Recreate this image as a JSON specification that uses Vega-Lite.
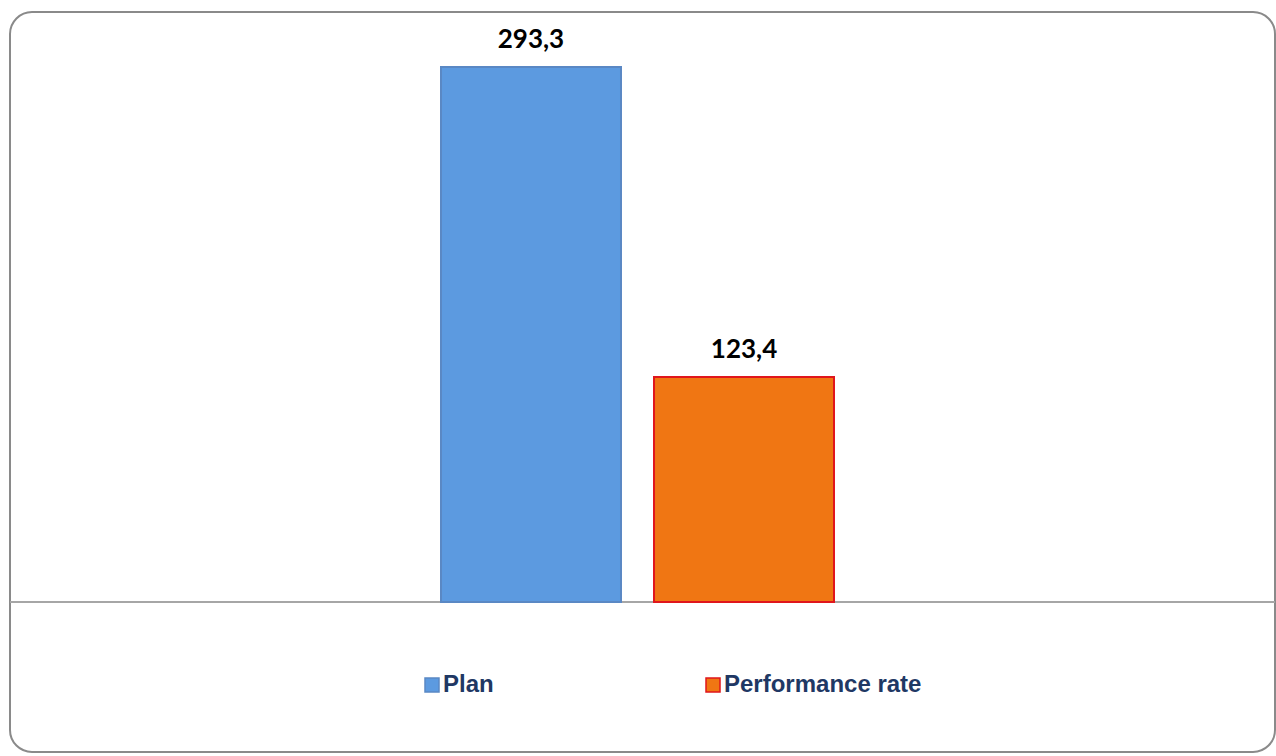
{
  "$schema": "https://vega.github.io/schema/vega-lite/v6.json",
  "width": 1265,
  "height": 740,
  "autosize": {"type": "none"},
  "padding": {"left": 10, "top": 12, "right": 1, "bottom": 4},
  "background": "white",
  "config": {"view": {"stroke": "#8A8A8A", "strokeWidth": 2, "cornerRadius": 22}},
  "data": {"values": [
    {"category": "Plan", "value": 293.3, "label": "293,3"},
    {"category": "Performance rate", "value": 123.4, "label": "123,4"}
  ]},
  "layer": [
    {
      "mark": {"type": "rule", "color": "#A6A6A6", "strokeWidth": 2},
      "encoding": {
        "y": {"datum": 0, "type": "quantitative", "axis": null, "scale": {"domain": [-82.2, 323.5], "nice": false, "zero": false}}
      }
    },
    {
      "mark": {"type": "bar", "strokeWidth": 2},
      "encoding": {
        "x": {"field": "category", "type": "nominal", "sort": null, "axis": null,
              "scale": {"range": [431, 824], "paddingInner": 0.155, "paddingOuter": 0}},
        "y": {"field": "value", "type": "quantitative", "axis": null,
              "scale": {"domain": [-82.2, 323.5], "nice": false, "zero": false}},
        "y2": {"datum": 0},
        "color": {"field": "category", "type": "nominal", "sort": null,
                  "scale": {"domain": ["Plan", "Performance rate"], "range": ["#5C9AE0", "#F07613"]},
                  "legend": {"orient": "none", "legendX": 410, "legendY": 661, "direction": "horizontal", "columns": 2,
                             "columnPadding": 207, "symbolType": "square", "symbolSize": 196, "symbolStrokeWidth": 1.5,
                             "labelFontSize": 24, "labelFont": "Liberation Sans", "labelFontWeight": "bold",
                             "labelColor": "#1F3864", "labelOffset": -1, "labelLimit": 400, "title": null, "padding": 0}},
        "stroke": {"field": "category", "type": "nominal", "sort": null,
                   "scale": {"domain": ["Plan", "Performance rate"], "range": ["#5A88C4", "#E0161B"]}}
      }
    },
    {
      "mark": {"type": "text", "font": "Lato", "fontSize": 26, "fontWeight": "bold", "color": "#000000", "baseline": "alphabetic", "dy": -19},
      "encoding": {
        "x": {"field": "category", "type": "nominal", "sort": null, "axis": null,
              "scale": {"range": [431, 824], "paddingInner": 0.155, "paddingOuter": 0}},
        "y": {"field": "value", "type": "quantitative", "axis": null,
              "scale": {"domain": [-82.2, 323.5], "nice": false, "zero": false}},
        "text": {"field": "label"}
      }
    }
  ]
}
